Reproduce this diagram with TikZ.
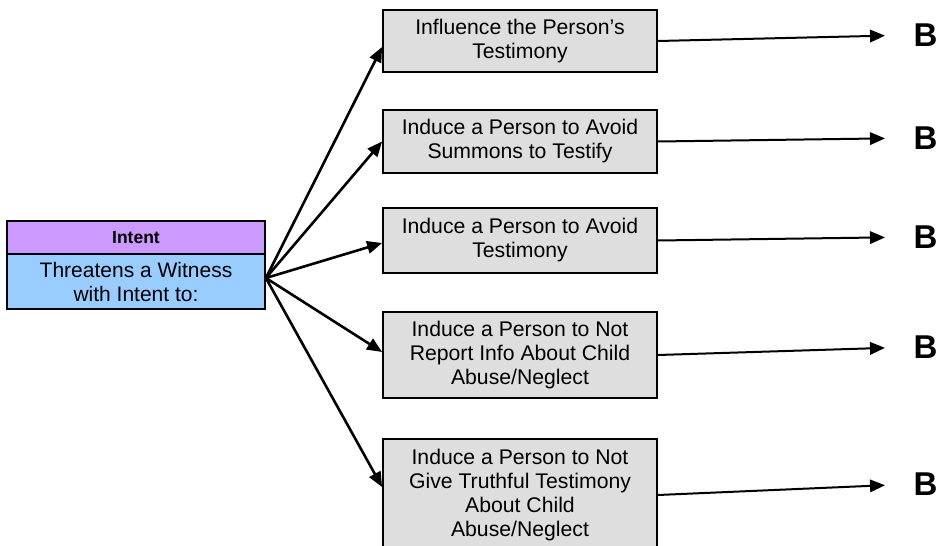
\documentclass[tikz,border=0pt]{standalone}
\usepackage{fontspec}
\setmainfont{Liberation Sans}
\usetikzlibrary{arrows.meta}
\definecolor{intenthead}{rgb}{0.8,0.6,1.}
\definecolor{intentbody}{rgb}{0.6,0.8,1.}
\definecolor{stepgray}{rgb}{0.87,0.87,0.87}
\tikzset{
  intentbox/.style={draw,line width=1.8pt,minimum width=258pt,inner sep=0pt,align=center},
  purpose/.style={draw,line width=1.8pt,fill=stepgray,minimum width=274pt,inner sep=0pt,
    align=center,font=\fontsize{21.2}{24}\selectfont},
  outcome/.style={anchor=west,inner sep=0pt,font=\fontsize{33}{33}\selectfont\bfseries},
  fan/.style={->,line width=2.6pt},
  lead/.style={->,line width=2pt,shorten >=28.5pt}
}

\begin{document}
\begin{tikzpicture}[line join=miter,>={Triangle[length=15pt,width=12.5pt]},x=1pt,y=-1pt]
  \clip (0,0) rectangle (938,546);
  % intent box, header over body
  \node[intentbox,fill=intenthead,minimum height=33pt,font=\fontsize{17.5}{20}\selectfont\bfseries] (head) at (136,237.5) {Intent};
  \node[intentbox,fill=intentbody,minimum height=55pt,font=\fontsize{21}{24}\selectfont] (body) at (136,281.5) {Threatens a Witness\\with Intent to:};
  % the five purposes
  \node[purpose,minimum height=62pt] (p1) at (520,41) {Influence the Person’s\\Testimony};
  \node[purpose,minimum height=63pt] (p2) at (520,141.5) {Induce a Person to Avoid\\Summons to Testify};
  \node[purpose,minimum height=65pt] (p3) at (520,240.5) {Induce a Person to Avoid\\Testimony};
  \node[purpose,minimum height=86pt] (p4) at (520,355) {Induce a Person to Not\\Report Info About Child\\Abuse/Neglect};
  \node[purpose,minimum height=112pt] (p5) at (520,495) {Induce a Person to Not\\Give Truthful Testimony\\About Child\\Abuse/Neglect};
  % B markers
  \node[outcome] (b1) at (913.5,35) {B};
  \node[outcome] (b2) at (913.5,138) {B};
  \node[outcome] (b3) at (913.5,237) {B};
  \node[outcome] (b4) at (913.5,347) {B};
  \node[outcome] (b5) at (913.5,484) {B};
  % fan out of the intent box
  \draw[fan] ([yshift=3.5pt]body.east) -- ([yshift=-6pt]p1.west);
  \draw[fan] ([yshift=3.5pt]body.east) -- (p2.west);
  \draw[fan] ([yshift=3.5pt]body.east) -- ([yshift=-2.5pt]p3.west);
  \draw[fan] ([yshift=3.5pt]body.east) -- ([yshift=3pt]p4.west);
  \draw[fan] ([yshift=3.5pt]body.east) -- ([yshift=8pt]p5.west);
  % on to B
  \draw[lead] (p1.east) -- (b1.west);
  \draw[lead] (p2.east) -- (b2.west);
  \draw[lead] (p3.east) -- (b3.west);
  \draw[lead] (p4.east) -- (b4.west);
  \draw[lead] (p5.east) -- (b5.west);
\end{tikzpicture}
\end{document}
